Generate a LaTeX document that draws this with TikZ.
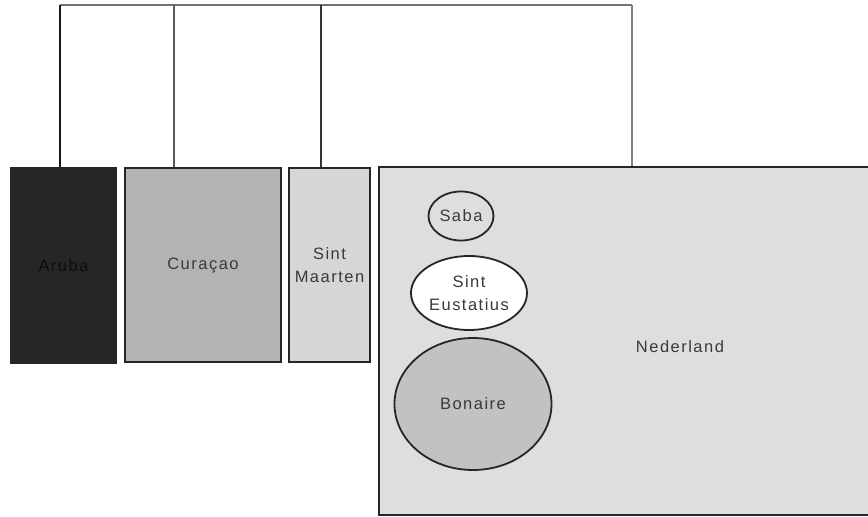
\documentclass[tikz,border=0pt]{standalone}
\usepackage{fontspec}
\setmainfont[LetterSpace=9]{Liberation Sans}
\usetikzlibrary{shapes.geometric}
\definecolor{cAruba}{HTML}{262626}
\definecolor{cCuracao}{HTML}{B3B3B3}
\definecolor{cMaarten}{HTML}{D6D6D6}
\definecolor{cNed}{HTML}{DEDEDE}
\definecolor{cBon}{HTML}{C2C2C2}
\definecolor{cTxt}{HTML}{3A3A3A}
\begin{document}
\begin{tikzpicture}[x=1pt,y=-1pt,
  lbl/.style={font=\fontsize{16.5}{23}\selectfont,text=cTxt,align=center},
  box/.style={lbl,draw=black!85,line width=1.8pt,rectangle,inner sep=0pt},
  isle/.style={lbl,draw=black!85,line width=1.8pt,ellipse,inner sep=0pt},
  conn/.style={line width=1.6pt}]
\useasboundingbox (0,0) rectangle (868,517);
\fill[white] (0,0) rectangle (868,517);
\node[box,fill=cAruba,text=black!95,minimum width=105pt,minimum height=195pt] (aruba) at (63.5,265.5) {Aruba};
\node[box,fill=cCuracao,minimum width=156pt,minimum height=194pt] (curacao) at (203,265) {Curaçao};
\node[box,fill=cMaarten,minimum width=81pt,minimum height=194pt] (maarten) at (329.5,265) {Sint\\Maarten};
\node[box,fill=cNed,minimum width=521pt,minimum height=348pt] (ned) at (639.5,341) {};
\node[lbl,inner sep=0pt] (nedlabel) at (680,347) {Nederland};
\node[isle,fill=cNed,minimum width=65pt,minimum height=49pt] (saba) at (461,216) {Saba};
\node[isle,fill=white,minimum width=116pt,minimum height=74pt] (eust) at (469,293) {Sint\\Eustatius};
\node[isle,fill=cBon,minimum width=157pt,minimum height=132pt] (bon) at (473,404) {Bonaire};
\coordinate (ta) at (60,5);
\coordinate (tc) at (174,5);
\coordinate (tm) at (321,5);
\coordinate (tn) at (632,5);
\draw[conn,draw=black!55,line width=1.5pt] (ta) -- (tn);
\draw[conn,draw=black!90] (ta) -- (ta |- aruba.north);
\draw[conn,draw=black!65,line width=1.2pt] (tc) -- (tc |- curacao.north);
\draw[conn,draw=black!80] (tm) -- (tm |- maarten.north);
\draw[conn,draw=black!50,line width=2.2pt] (tn) -- (tn |- ned.north);
\end{tikzpicture}
\end{document}
